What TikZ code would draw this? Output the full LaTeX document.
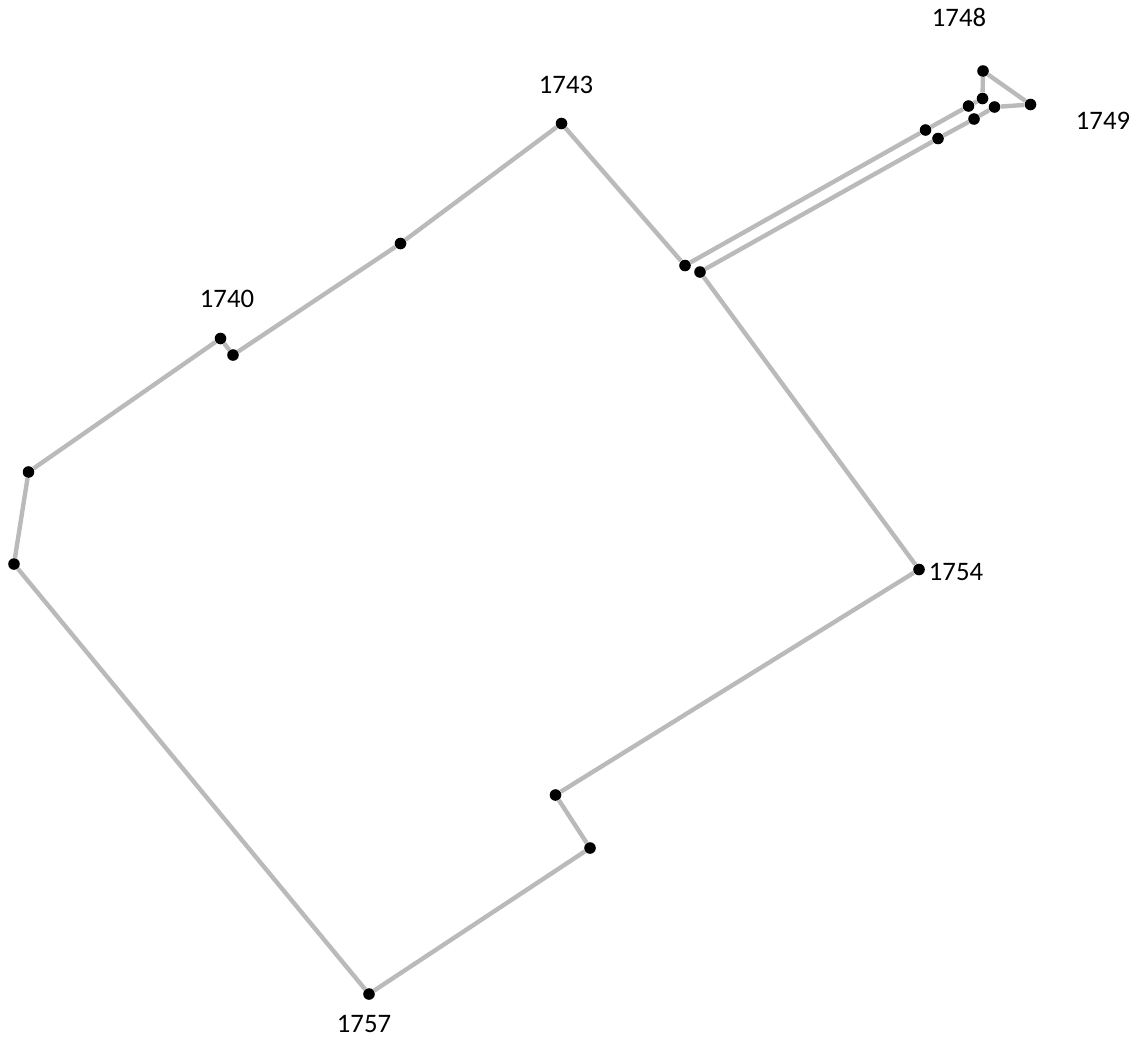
\documentclass[tikz,border=0pt]{standalone}
\usepackage{fontspec}
\setmainfont{Carlito}
\begin{document}
\begin{tikzpicture}[x=0.02cm, y=-0.02cm]
    % Define styles
    \tikzset{
        stop/.style={circle, fill=black, inner sep=0pt, minimum size=6.6pt},
        route/.style={draw=black!27, line width=2.5pt},
        year/.style={font=\fontsize{15.2}{18}\selectfont, inner sep=0pt}
    }
    \useasboundingbox (0,0) rectangle (1143,1038);

    % Stops
    \foreach \name/\x/\y in {a/983/71, b/982.5/98.5, c/968.5/106, d/925.5/130, e/685/265.5,
        f/561.5/123.5, g/400.5/243.5, h/233/355, i/220.5/338.5, j/28.5/472, k/14/564,
        l/369/994, m/590/848, n/555.5/795, o/919/569.5, p/700/272, q/938/138.5,
        r/974/119, s/994.5/107, t/1030.5/104.5} {
        \node[stop] (\name) at (\x,\y) {};
    }

    % Connecting lines
    \foreach \from/\to in {a/b, b/c, c/d, d/e, e/f, f/g, g/h, h/i, i/j, j/k, k/l,
        l/m, m/n, n/o, o/p, p/q, q/r, r/s, s/t, t/a} {
        \draw[route] (\from) -- (\to);
    }

    % Labels
    \node[year] (y1748) at (959,17.5) {1748};
    \node[year] (y1749) at (1103,121) {1749};
    \node[year] (y1743) at (566,85) {1743};
    \node[year] (y1740) at (227,299) {1740};
    \node[year] (y1754) at (956,572) {1754};
    \node[year] (y1757) at (364,1024) {1757};
\end{tikzpicture}
\end{document}
